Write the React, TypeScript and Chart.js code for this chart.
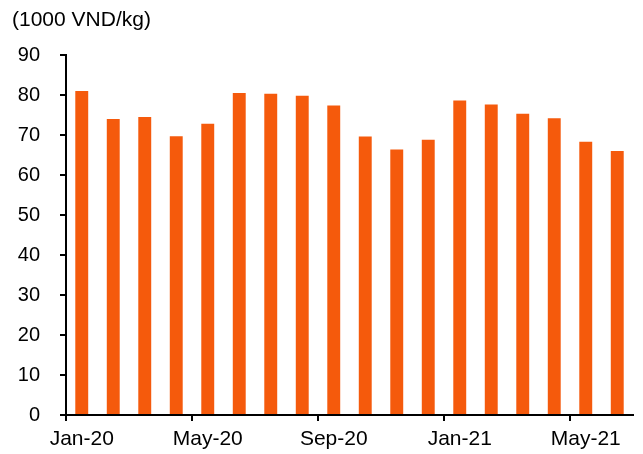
import React, { useEffect, useRef } from "react";
import { Chart, registerables } from "chart.js";

Chart.register(...registerables);

const categories = [
  "Jan-20", "Feb-20", "Mar-20", "Apr-20", "May-20", "Jun-20", "Jul-20", "Aug-20", "Sep-20",
  "Oct-20", "Nov-20", "Dec-20", "Jan-21", "Feb-21", "Mar-21", "Apr-21", "May-21", "Jun-21",
];
const prices = [81, 74, 74.5, 69.7, 72.8, 80.5, 80.3, 79.8, 77.4, 69.6, 66.4, 68.8, 78.6, 77.6, 75.3, 74.2, 68.3, 66];
const yTitle = "(1000 VND/kg)";
const barColor = "#F55A0C";
const FONT = "'Liberation Sans', Arial, sans-serif";

const titlePlugin = {
  id: "unitTitle",
  afterDraw(chart: any) {
    const ctx = chart.ctx;
    ctx.save();
    ctx.fillStyle = "#000";
    ctx.font = `21px ${FONT}`;
    ctx.textAlign = "left";
    ctx.textBaseline = "middle";
    ctx.fillText(yTitle, 12, 20);
    ctx.restore();
  },
};

export default function App() {
  const ref = useRef<HTMLCanvasElement | null>(null);
  useEffect(() => {
    if (!ref.current) return;
    const chart = new Chart(ref.current, {
      type: "bar",
      data: {
        labels: categories,
        datasets: [
          {
            data: prices,
            backgroundColor: barColor,
            barPercentage: 0.82,
            categoryPercentage: 0.5,
          },
        ],
      },
      plugins: [titlePlugin],
      options: {
        animation: false,
        responsive: false,
        maintainAspectRatio: false,
        layout: { padding: { left: 0, right: 10, top: 55, bottom: 0 } },
        plugins: {
          legend: { display: false },
          tooltip: { enabled: false },
          title: { display: false },
        },
        scales: {
          x: {
            offset: true,
            afterFit: (s: any) => {
              s.height = 39;
            },
            grid: {
              offset: true,
              drawOnChartArea: false,
              drawTicks: true,
              tickLength: 6,
              lineWidth: 2,
              color: (ctx: any) => (ctx.index % 4 === 0 ? "#000" : "rgba(0,0,0,0)"),
            },
            border: { display: true, color: "#000", width: 2 },
            ticks: {
              autoSkip: false,
              maxRotation: 0,
              padding: 6,
              color: "#000",
              font: { family: FONT, size: 21 },
              callback: (_v: any, i: number) => (i % 4 === 0 ? categories[i] : ""),
            },
          },
          y: {
            min: 0,
            max: 90,
            afterFit: (s: any) => {
              s.width = 66;
            },
            grid: {
              drawOnChartArea: false,
              drawTicks: true,
              tickLength: 6,
              lineWidth: 2,
              color: "#000",
            },
            border: { display: true, color: "#000", width: 2 },
            ticks: {
              stepSize: 10,
              padding: 20,
              color: "#000",
              font: { family: FONT, size: 20 },
            },
          },
        },
      },
    });
    return () => chart.destroy();
  }, []);
  return (
    <div style={{ position: "fixed", left: 0, top: 0, width: 643, height: 454, background: "#fff" }}>
      <canvas ref={ref} width={643} height={454} style={{ display: "block" }} />
    </div>
  );
}
